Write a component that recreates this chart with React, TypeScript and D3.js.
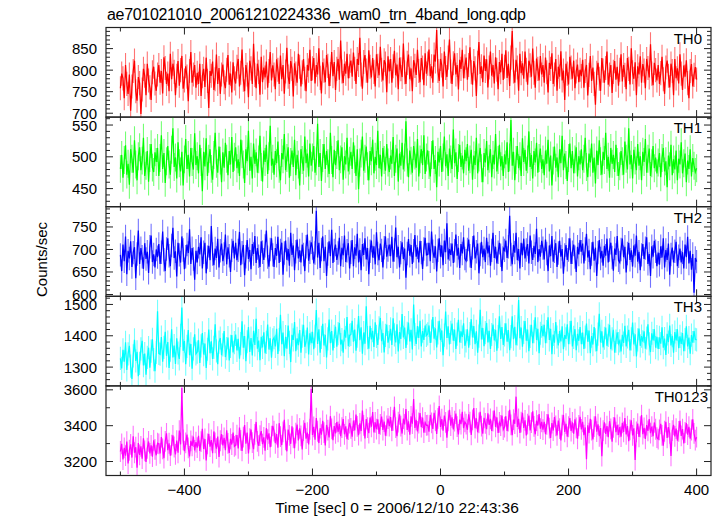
import React from 'react';
import * as d3 from 'd3';

const TITLE = 'ae701021010_20061210224336_wam0_trn_4band_long.qdp';
const X_LABEL = 'Time [sec] 0 = 2006/12/10 22:43:36';
const Y_LABEL = 'Counts/sec';
const T_START = -500;
const T_STEP = 2;
const X_TICKS = [-500, -400, -300, -200, -100, 0, 100, 200, 300, 400];
const X_LABELED = [-400, -200, 0, 200, 400];

const th0 = [
  758, 792, 781, 735, 812, 768, 745, 790, 706, 762, 798, 822, 751, 729, 784, 770, 698, 755, 803, 787, 742, 815, 776, 760, 731, 795, 808, 769, 752, 790,
  812, 771, 798, 746, 830, 805, 768, 792, 751, 838, 779, 815, 796, 742, 787, 821, 764, 800, 833, 757, 776, 809, 785, 728, 798, 842, 771, 790, 812, 759,
  794, 768, 815, 740, 786, 803, 761, 829, 775, 712, 798, 787, 820, 754, 779, 836, 768, 805, 745, 790, 813, 772, 758, 801, 835, 766, 792, 748, 818, 781,
  769, 808, 826, 762, 794, 848, 778, 751, 812, 790, 737, 822, 804, 768, 861, 789, 758, 815, 796, 743, 831, 772, 806, 783, 820, 759, 798, 842, 776, 811,
  790, 756, 825, 801, 768, 834, 779, 812, 745, 797, 852, 785, 768, 821, 803, 739, 816, 792, 771, 838, 808, 762, 795, 826, 780, 751, 812, 799, 847, 775,
  804, 828, 769, 812, 790, 851, 782, 746, 818, 799, 772, 835, 810, 763, 791, 842, 786, 819, 754, 803, 826, 778, 869, 797, 770, 815, 792, 838, 781, 809,
  822, 785, 841, 803, 768, 826, 812, 875, 790, 757, 819, 835, 799, 771, 846, 808, 783, 828, 796, 762, 837, 810, 788, 854, 801, 776, 823, 815, 749, 832,
  797, 826, 771, 809, 845, 788, 813, 756, 829, 802, 784, 862, 795, 768, 817, 836, 779, 804, 751, 823, 810, 789, 847, 798, 772, 828, 806, 765, 839, 792,
  815, 848, 786, 809, 771, 836, 820, 893, 798, 775, 826, 811, 762, 843, 805, 784, 829, 871, 797, 768, 816, 839, 790, 812, 755, 824, 803, 847, 781, 809,
  829, 778, 812, 853, 795, 766, 821, 804, 740, 817, 865, 791, 809, 772, 834, 798, 825, 760, 806, 843, 787, 812, 769, 830, 801, 756, 819, 795, 838, 777,
  808, 846, 782, 815, 763, 829, 891, 797, 771, 824, 806, 752, 838, 793, 816, 780, 843, 801, 766, 822, 811, 785, 850, 794, 759, 827, 803, 776, 833, 790,
  812, 771, 829, 795, 748, 817, 803, 839, 768, 790, 826, 752, 808, 785, 844, 776, 799, 731, 815, 792, 767, 831, 806, 780, 822, 758, 797, 813, 772, 801,
  786, 824, 759, 798, 812, 741, 789, 833, 775, 806, 768, 720, 794, 817, 780, 752, 828, 799, 771, 805, 843, 766, 790, 812, 747, 796, 821, 778, 808, 764,
  801, 837, 774, 812, 789, 756, 828, 803, 767, 851, 795, 780, 818, 742, 809, 790, 832, 771, 814, 799, 758, 826, 805, 783, 860, 792, 765, 817, 800, 776,
  812, 768, 793, 831, 779, 745, 806, 822, 787, 760, 815, 798, 742, 826, 781, 804, 769, 837, 792, 754, 811, 785, 823, 770, 735, 798, 814, 762, 789, 807,
  778,
];

const th1 = [
  481, 503, 467, 495, 518, 472, 489, 456, 512, 497, 475, 526, 488, 463, 501, 515, 479, 494, 530, 470, 486, 509, 461, 498, 520, 483, 476, 507, 492, 514,
  470, 498, 534, 481, 506, 459, 493, 517, 488, 472, 511, 545, 484, 499, 466, 523, 490, 477, 508, 455, 496, 528, 481, 503, 469, 514, 492, 480, 537, 487,
  501, 474, 519, 492, 446, 508, 485, 529, 470, 497, 512, 481, 464, 503, 538, 489, 475, 516, 494, 460, 507, 483, 522, 497, 471, 509, 488, 531, 476, 500,
  515, 482, 496, 470, 527, 504, 488, 459, 512, 493, 541, 478, 500, 466, 521, 489, 507, 475, 496, 533, 484, 461, 510, 492, 519, 473, 501, 549, 486, 497,
  472, 509, 490, 524, 481, 463, 506, 496, 536, 479, 498, 515, 467, 492, 510, 484, 527, 471, 503, 488, 455, 512, 495, 478, 532, 490, 505, 469, 521, 486,
  499, 517, 475, 493, 552, 484, 506, 462, 498, 520, 481, 509, 490, 473, 538, 495, 468, 511, 487, 503, 526, 479, 496, 515, 464, 501, 488, 530, 477, 494,
  508, 481, 523, 496, 470, 512, 449, 491, 505, 532, 478, 497, 516, 485, 463, 509, 493, 527, 474, 500, 487, 541, 482, 503, 469, 514, 495, 478, 520, 491,
  476, 502, 489, 531, 470, 497, 513, 461, 505, 486, 522, 480, 499, 556, 491, 468, 510, 494, 475, 517, 502, 483, 528, 469, 496, 512, 487, 534, 473, 499,
  510, 487, 469, 503, 526, 481, 495, 452, 508, 491, 517, 476, 499, 532, 485, 504, 470, 513, 496, 481, 543, 490, 507, 465, 498, 519, 484, 502, 474, 511,
  493, 520, 478, 496, 511, 464, 502, 487, 530, 474, 499, 514, 482, 460, 506, 491, 525, 479, 497, 512, 468, 503, 488, 536, 477, 495, 519, 485, 501, 470,
  504, 488, 523, 476, 499, 558, 486, 508, 463, 495, 517, 482, 501, 470, 529, 492, 511, 478, 496, 540, 484, 503, 466, 509, 491, 522, 475, 498, 513, 481,
  496, 471, 510, 489, 527, 477, 502, 455, 494, 516, 483, 499, 468, 512, 490, 533, 479, 505, 487, 462, 498, 521, 482, 509, 474, 496, 515, 469, 501, 488,
  512, 479, 497, 530, 484, 468, 505, 491, 521, 475, 499, 458, 510, 487, 526, 493, 472, 508, 495, 538, 481, 500, 467, 514, 489, 503, 476, 519, 492, 470,
  485, 509, 493, 472, 524, 497, 480, 545, 488, 503, 466, 511, 494, 479, 520, 486, 501, 463, 508, 492, 528, 475, 497, 513, 470, 490, 517, 482, 499, 474,
  491, 506, 468, 498, 514, 477, 493, 452, 502, 485, 519, 471, 496, 480, 510, 463, 497, 488, 523, 474, 490, 505, 460, 494, 481, 512, 469, 498, 486, 476,
  482,
];

const th2 = [
  688, 652, 711, 674, 729, 645, 697, 680, 718, 661, 693, 705, 636, 690, 742, 668, 703, 684, 657, 714, 679, 695, 648, 706, 731, 672, 689, 660, 700, 683,
  712, 668, 694, 740, 677, 652, 701, 725, 686, 663, 709, 748, 681, 696, 640, 715, 688, 671, 729, 699, 656, 684, 711, 692, 745, 668, 703, 679, 633, 697,
  671, 706, 689, 727, 658, 694, 715, 647, 683, 708, 676, 752, 690, 665, 702, 681, 724, 660, 697, 713, 674, 690, 733, 667, 705, 686, 650, 698, 719, 680,
  715, 676, 698, 739, 665, 693, 710, 643, 684, 721, 679, 699, 656, 712, 690, 730, 670, 703, 685, 661, 718, 694, 677, 708, 742, 683, 662, 700, 725, 688,
  661, 703, 686, 728, 670, 698, 715, 644, 692, 720, 677, 701, 664, 737, 688, 709, 654, 695, 722, 680, 698, 671, 711, 689, 652, 706, 733, 675, 694, 716,
  703, 669, 692, 786, 682, 715, 659, 700, 729, 674, 706, 641, 690, 718, 685, 744, 670, 698, 711, 677, 692, 726, 663, 704, 687, 731, 672, 697, 714, 658,
  694, 721, 663, 705, 686, 735, 671, 699, 654, 712, 688, 725, 678, 703, 645, 696, 720, 682, 707, 667, 738, 691, 676, 713, 698, 660, 704, 729, 684, 699,
  711, 685, 728, 673, 699, 749, 683, 706, 660, 693, 716, 679, 702, 637, 691, 723, 686, 710, 668, 697, 732, 684, 705, 671, 719, 693, 657, 701, 726, 688,
  689, 715, 674, 740, 696, 682, 707, 651, 698, 725, 684, 709, 665, 720, 694, 758, 678, 701, 688, 713, 670, 697, 733, 686, 704, 659, 712, 691, 727, 680,
  675, 700, 722, 686, 659, 704, 731, 680, 695, 713, 647, 689, 717, 683, 702, 672, 726, 691, 709, 664, 698, 737, 681, 706, 669, 694, 715, 687, 652, 703,
  698, 720, 681, 706, 775, 689, 667, 710, 693, 737, 676, 701, 658, 715, 687, 724, 680, 699, 712, 669, 731, 694, 677, 708, 690, 746, 672, 701, 684, 719,
  703, 678, 722, 691, 652, 709, 685, 730, 673, 696, 714, 661, 692, 719, 684, 701, 646, 688, 710, 677, 699, 725, 668, 694, 711, 683, 650, 706, 689, 721,
  695, 713, 669, 701, 735, 682, 698, 656, 690, 717, 675, 704, 641, 693, 721, 680, 697, 664, 708, 686, 724, 671, 699, 715, 682, 653, 702, 688, 730, 676,
  671, 700, 724, 683, 706, 649, 691, 715, 677, 698, 662, 709, 686, 731, 673, 695, 654, 688, 712, 679, 703, 727, 668, 690, 641, 707, 684, 719, 696, 663,
  693, 666, 707, 682, 725, 660, 699, 677, 713, 644, 689, 704, 671, 696, 717, 663, 685, 702, 671, 694, 658, 711, 683, 728, 669, 697, 655, 690, 604, 681,
  673,
];

const th3 = [
  1328, 1296, 1355, 1317, 1379, 1291, 1342, 1368, 1303, 1262, 1336, 1387, 1320, 1349, 1271, 1312, 1358, 1384, 1305, 1343, 1276, 1331, 1362, 1298, 1351, 1389, 1324, 1287, 1347, 1478,
  1344, 1341, 1396, 1317, 1363, 1413, 1336, 1380, 1297, 1354, 1421, 1331, 1369, 1310, 1392, 1345, 1326, 1401, 1490, 1352, 1383, 1309, 1366, 1418, 1338, 1374, 1295, 1358, 1405, 1342,
  1348, 1386, 1313, 1368, 1409, 1340, 1375, 1297, 1357, 1420, 1344, 1382, 1326, 1363, 1437, 1352, 1309, 1380, 1393, 1338, 1371, 1415, 1332, 1359, 1394, 1321, 1366, 1402, 1347, 1378,
  1404, 1353, 1390, 1327, 1375, 1446, 1362, 1399, 1319, 1381, 1428, 1348, 1393, 1337, 1416, 1371, 1454, 1359, 1385, 1322, 1397, 1363, 1411, 1344, 1379, 1436, 1356, 1392, 1330, 1387,
  1394, 1366, 1422, 1342, 1388, 1467, 1373, 1410, 1335, 1397, 1359, 1433, 1379, 1316, 1403, 1387, 1444, 1351, 1392, 1370, 1418, 1346, 1399, 1435, 1365, 1381, 1426, 1340, 1408, 1376,
  1413, 1357, 1399, 1482, 1374, 1421, 1346, 1395, 1438, 1369, 1403, 1331, 1390, 1452, 1376, 1415, 1353, 1398, 1429, 1365, 1407, 1441, 1372, 1388, 1346, 1419, 1394, 1460, 1367, 1401,
  1404, 1448, 1381, 1420, 1352, 1399, 1463, 1386, 1427, 1343, 1410, 1375, 1494, 1394, 1359, 1432, 1388, 1416, 1364, 1443, 1398, 1371, 1425, 1457, 1383, 1409, 1347, 1401, 1436, 1378,
  1397, 1422, 1371, 1456, 1403, 1379, 1437, 1350, 1412, 1390, 1469, 1395, 1426, 1361, 1408, 1442, 1382, 1419, 1356, 1500, 1404, 1374, 1431, 1393, 1448, 1366, 1415, 1387, 1433, 1401,
  1406, 1433, 1377, 1415, 1460, 1391, 1424, 1363, 1409, 1448, 1386, 1417, 1338, 1402, 1477, 1393, 1430, 1372, 1411, 1439, 1384, 1420, 1358, 1405, 1451, 1379, 1414, 1396, 1440, 1368,
  1384, 1421, 1362, 1407, 1453, 1395, 1431, 1373, 1414, 1346, 1399, 1483, 1388, 1425, 1367, 1410, 1441, 1379, 1416, 1358, 1404, 1436, 1385, 1419, 1352, 1397, 1462, 1390, 1428, 1371,
  1403, 1440, 1381, 1418, 1354, 1397, 1462, 1389, 1429, 1370, 1406, 1514, 1392, 1426, 1365, 1411, 1447, 1384, 1420, 1351, 1398, 1435, 1376, 1413, 1459, 1387, 1422, 1344, 1408, 1431,
  1399, 1435, 1376, 1413, 1459, 1387, 1422, 1341, 1404, 1378, 1444, 1396, 1369, 1415, 1382, 1430, 1357, 1402, 1390, 1437, 1373, 1410, 1448, 1366, 1395, 1421, 1354, 1406, 1384, 1428,
  1373, 1410, 1358, 1396, 1439, 1381, 1417, 1344, 1399, 1372, 1428, 1387, 1351, 1405, 1470, 1379, 1414, 1363, 1392, 1426, 1368, 1401, 1435, 1357, 1390, 1419, 1346, 1383, 1411, 1375,
  1384, 1350, 1403, 1377, 1432, 1366, 1396, 1419, 1353, 1390, 1442, 1372, 1405, 1334, 1387, 1423, 1368, 1399, 1381, 1414, 1359, 1393, 1437, 1374, 1348, 1408, 1385, 1421, 1362, 1397,
  1358, 1395, 1375, 1427, 1362, 1391, 1339, 1406, 1380, 1433, 1369, 1400, 1346, 1412, 1385, 1421, 1360, 1398, 1374, 1409, 1351, 1388, 1430, 1366, 1394, 1343, 1402, 1378, 1415, 1389,
  1387,
];

const th0123 = [
  3256, 3299, 3211, 3276, 3233, 3311, 3189, 3263, 3296, 3222, 3341, 3249, 3280, 3166, 3303, 3237, 3285, 3216, 3329, 3260, 3198, 3274, 3312, 3245, 3290, 3227, 3318, 3268, 3235, 3302,
  3298, 3245, 3336, 3271, 3219, 3312, 3357, 3263, 3302, 3233, 3291, 3346, 3281, 3240, 3317, 3249, 3373, 3296, 3610, 3321, 3258, 3304, 3350, 3276, 3228, 3315, 3287, 3339, 3262, 3308,
  3277, 3343, 3259, 3311, 3382, 3270, 3326, 3206, 3299, 3355, 3283, 3320, 3247, 3368, 3304, 3272, 3339, 3225, 3316, 3353, 3290, 3332, 3263, 3374, 3301, 3248, 3327, 3295, 3361, 3284,
  3291, 3347, 3273, 3390, 3318, 3259, 3336, 3403, 3300, 3362, 3245, 3327, 3379, 3306, 3269, 3352, 3421, 3313, 3288, 3344, 3370, 3297, 3335, 3261, 3386, 3322, 3357, 3280, 3341, 3399,
  3370, 3302, 3353, 3277, 3414, 3339, 3292, 3366, 3433, 3321, 3257, 3378, 3346, 3299, 3397, 3332, 3275, 3359, 3406, 3318, 3385, 3343, 3268, 3372, 3416, 3328, 3361, 3295, 3380, 3605,
  3348, 3393, 3322, 3442, 3369, 3303, 3386, 3350, 3427, 3361, 3290, 3404, 3375, 3334, 3453, 3382, 3319, 3398, 3357, 3420, 3366, 3410, 3341, 3389, 3437, 3352, 3396, 3325, 3378, 3415,
  3385, 3339, 3428, 3373, 3462, 3396, 3347, 3413, 3370, 3484, 3402, 3329, 3437, 3389, 3358, 3446, 3394, 3476, 3362, 3419, 3381, 3435, 3354, 3407, 3451, 3376, 3423, 3344, 3399, 3440,
  3397, 3448, 3371, 3430, 3505, 3389, 3342, 3420, 3463, 3398, 3356, 3439, 3407, 3493, 3376, 3424, 3350, 3452, 3411, 3549, 3387, 3433, 3368, 3415, 3470, 3392, 3445, 3361, 3418, 3402,
  3403, 3367, 3460, 3416, 3382, 3472, 3428, 3354, 3441, 3510, 3393, 3437, 3372, 3456, 3419, 3333, 3427, 3488, 3400, 3446, 3379, 3425, 3468, 3395, 3351, 3434, 3409, 3477, 3386, 3421,
  3409, 3377, 3463, 3420, 3349, 3432, 3498, 3386, 3441, 3363, 3416, 3477, 3398, 3355, 3444, 3413, 3381, 3469, 3404, 3438, 3371, 3426, 3485, 3393, 3447, 3359, 3418, 3401, 3456, 3378,
  3392, 3453, 3370, 3426, 3489, 3405, 3347, 3434, 3411, 3562, 3393, 3438, 3359, 3420, 3472, 3387, 3430, 3345, 3409, 3456, 3374, 3417, 3480, 3396, 3352, 3428, 3401, 3465, 3383, 3422,
  3378, 3422, 3353, 3407, 3464, 3386, 3332, 3415, 3373, 3448, 3399, 3346, 3429, 3384, 3317, 3403, 3460, 3365, 3411, 3338, 3394, 3442, 3370, 3419, 3355, 3436, 3388, 3327, 3401, 3450,
  3379, 3421, 3347, 3390, 3213, 3402, 3359, 3438, 3376, 3323, 3395, 3452, 3367, 3408, 3341, 3387, 3230, 3373, 3419, 3354, 3398, 3336, 3425, 3382, 3310, 3391, 3446, 3364, 3405, 3349,
  3392, 3339, 3416, 3365, 3443, 3351, 3398, 3314, 3377, 3430, 3346, 3385, 3208, 3366, 3412, 3337, 3394, 3459, 3353, 3388, 3326, 3403, 3371, 3437, 3358, 3395, 3342, 3418, 3380, 3333,
  3325, 3377, 3410, 3346, 3289, 3369, 3422, 3332, 3392, 3357, 3231, 3373, 3405, 3340, 3384, 3316, 3368, 3427, 3343, 3381, 3301, 3362, 3414, 3350, 3394, 3328, 3376, 3435, 3357, 3319,
  3336,
];

const panelNames = ['TH0', 'TH1', 'TH2', 'TH3', 'TH0123'];
const panelValues = [th0, th1, th2, th3, th0123];
const panelErrors = [28, 22, 26, 37, 58];
const panelDomains = [[691, 899], [421.5, 562.5], [596, 795], [1240, 1526], [3122, 3622]];
const panelMajor = [50, 50, 50, 100, 200];
const panelMinor = [10, 10, 10, 20, 100];
const panelColors = ['#ff0000', '#00ff00', '#0000ff', '#00ffff', '#ff00ff'];
const panelNameRight = [702, 702, 702, 702, 708];

const FONT = "'Liberation Sans', Arial, Helvetica, sans-serif";

function fmt(v: number) {
  return v < 0 ? '\u2212' + Math.abs(v) : String(v);
}

export default function App() {
  const W = 723, H = 516;
  const left = 106, right = 711, top = 27.5, bottom = 475.5;
  const ph = (bottom - top) / 5;
  const x = d3.scaleLinear().domain([-522.5, 422.5]).range([left, right]);
  const majT = 7, minT = 4;
  const axisColor = '#222';

  return (
    <svg width={W} height={H} style={{ position: 'absolute', left: 0, top: 0, background: '#fff' }}
      fontFamily={FONT}>
      <rect x={0} y={0} width={W} height={H} fill="#fff" />
      <text x={107} y={20} fontSize={16} textLength={419} lengthAdjust="spacing" fill="#000">{TITLE}</text>
      <defs>
        {panelNames.map((n, i) => (
          <clipPath id={'clip' + i} key={n}>
            <rect x={left} y={top + i * ph} width={right - left} height={ph} />
          </clipPath>
        ))}
      </defs>
      {panelNames.map((name, i) => {
        const y0 = top + i * ph;
        const y1 = y0 + ph;
        const dom = panelDomains[i];
        const y = d3.scaleLinear().domain(dom).range([y1, y0]);
        const vals = panelValues[i];
        const err = panelErrors[i];
        const pts = vals.map((v, k) => [T_START + k * T_STEP, v] as [number, number]);
        const line = d3.line<[number, number]>().x(d => x(d[0])).y(d => y(d[1]));
        const errPath = pts.map(d => `M${x(d[0]).toFixed(2)},${y(d[1] - err).toFixed(2)}V${y(d[1] + err).toFixed(2)}`).join('');
        const minor = panelMinor[i], major = panelMajor[i];
        const yt = d3.range(Math.ceil(dom[0] / minor) * minor, dom[1] + 0.001, minor);
        return (
          <g key={name}>
            <g clipPath={`url(#clip${i})`}>
              <path d={errPath} stroke={panelColors[i]} strokeOpacity={0.55} strokeWidth={1.1} fill="none" />
              <path d={line(pts) || ''} stroke={panelColors[i]} strokeWidth={1.25} fill="none" />
            </g>
            {yt.map(v => {
              const isMaj = Math.abs(v % major) < 1e-6;
              const len = isMaj ? majT : minT;
              const yy = y(v);
              return (
                <g key={v}>
                  <line x1={left} x2={left + len} y1={yy} y2={yy} stroke={axisColor} strokeWidth={1} />
                  <line x1={right} x2={right - len} y1={yy} y2={yy} stroke={axisColor} strokeWidth={1} />
                  {isMaj && (
                    <text x={97} y={yy} fontSize={15} textAnchor="end" dominantBaseline="central" fill="#000">{fmt(v)}</text>
                  )}
                </g>
              );
            })}
            {X_TICKS.map(t => {
              const isMaj = X_LABELED.includes(t);
              const len = isMaj ? majT : minT;
              const xx = x(t);
              return (
                <g key={t}>
                  <line x1={xx} x2={xx} y1={y0} y2={y0 + len} stroke={axisColor} strokeWidth={1} />
                  <line x1={xx} x2={xx} y1={y1} y2={y1 - len} stroke={axisColor} strokeWidth={1} />
                </g>
              );
            })}
            <rect x={left} y={y0} width={right - left} height={ph} fill="none" stroke={axisColor} strokeWidth={1.2} />
            <text x={panelNameRight[i]} y={y0 + 16} fontSize={15} textAnchor="end" fill="#000">{name}</text>
          </g>
        );
      })}
      {X_LABELED.map(t => (
        <text key={t} x={x(t)} y={495} fontSize={15} textAnchor="middle" fill="#000">{fmt(t)}</text>
      ))}
      <text x={397} y={513} fontSize={15.5} textAnchor="middle" fill="#000">{X_LABEL}</text>
      <text transform={`translate(47,${(top + bottom) / 2 + 8}) rotate(-90)`} fontSize={15} textAnchor="middle" fill="#000">{Y_LABEL}</text>
    </svg>
  );
}
